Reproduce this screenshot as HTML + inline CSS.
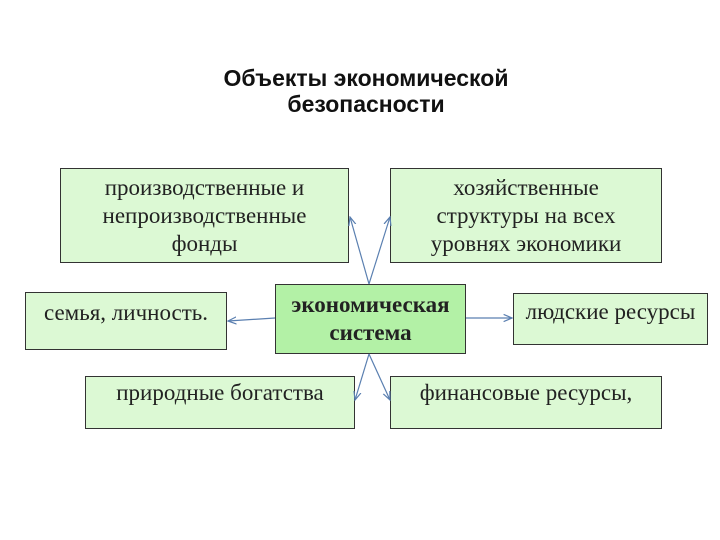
<!DOCTYPE html>
<html><head><meta charset="utf-8"><style>
body{margin:0;width:720px;height:540px;background:#fff;position:relative;overflow:hidden}
.t{position:absolute;left:0;width:732px;text-align:center;font:bold 23px "Liberation Sans",sans-serif;color:#111;line-height:26px;white-space:nowrap}
.b{position:absolute;box-sizing:border-box;border:1px solid #333;background:#dcf9d4;font:23px "Liberation Serif",serif;color:#222;text-align:center;line-height:28px;display:flex;align-items:center;justify-content:center;white-space:nowrap}
</style></head><body>
<div class="t" style="top:65px">Объекты экономической<br>безопасности</div>
<div class="b" style="left:60px;top:168px;width:289px;height:95px;align-items:flex-start;padding-top:5px">производственные и<br>непроизводственные<br>фонды</div>
<div class="b" style="left:390px;top:168px;width:272px;height:95px;align-items:flex-start;padding-top:5px">хозяйственные<br>структуры на всех<br>уровнях экономики</div>
<div class="b" style="left:25px;top:292px;width:202px;height:58px;align-items:flex-start;padding-top:6px">семья, личность.</div>
<div class="b" style="left:275px;top:284px;width:191px;height:70px;background:#b3f1a6;font-weight:bold">экономическая<br>система</div>
<div class="b" style="left:513px;top:293px;width:195px;height:52px;align-items:flex-start;padding-top:4px">людские ресурсы</div>
<div class="b" style="left:85px;top:376px;width:270px;height:53px;align-items:flex-start;padding-top:2px">природные богатства</div>
<div class="b" style="left:390px;top:376px;width:272px;height:53px;align-items:flex-start;padding-top:2px">финансовые ресурсы,</div>
<svg width="720" height="540" style="position:absolute;left:0;top:0">
<defs><marker id="a" markerWidth="8" markerHeight="8" refX="7" refY="4" orient="auto"><path d="M0,1 L7,4 L0,7" fill="none" stroke="#5a7fb0" stroke-width="1"/></marker></defs>
<g stroke="#5a7fb0" stroke-width="1.2" marker-end="url(#a)">
<line x1="369" y1="284" x2="350" y2="217"/>
<line x1="369" y1="284" x2="390" y2="217"/>
<line x1="369" y1="354" x2="355" y2="400"/>
<line x1="369" y1="354" x2="390" y2="400"/>
<line x1="275" y1="318" x2="228" y2="321"/>
<line x1="466" y1="318" x2="512" y2="318"/>
</g></svg>
</body></html>
